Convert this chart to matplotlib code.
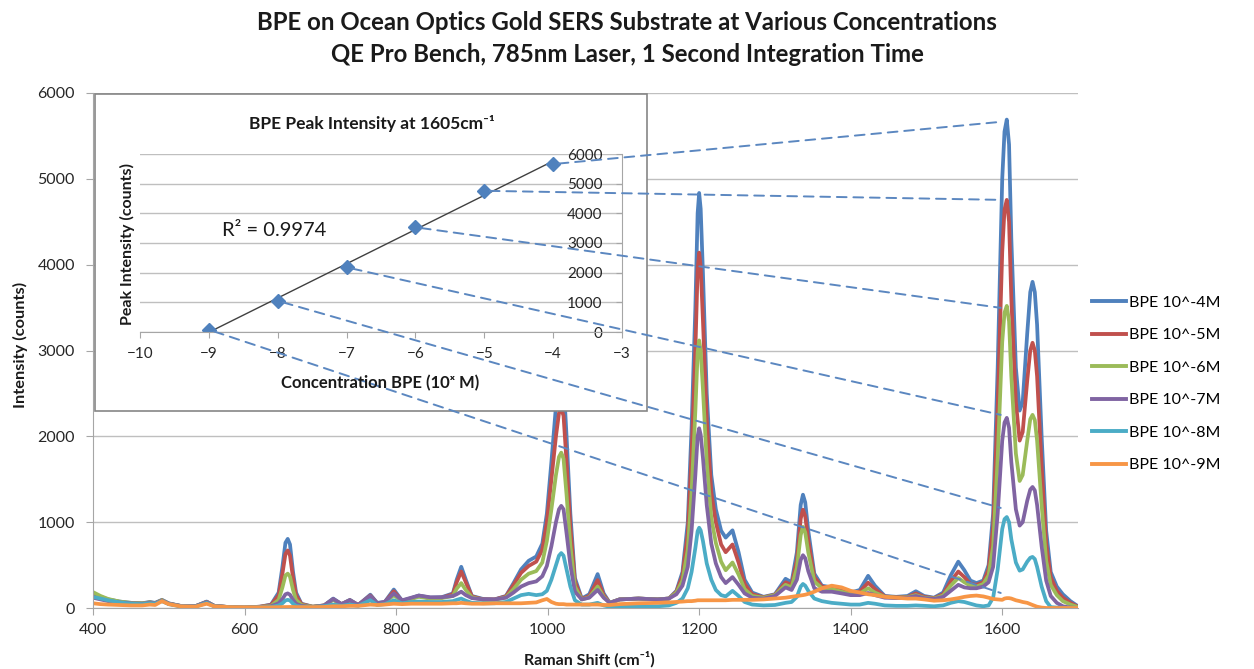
import matplotlib
matplotlib.use('Agg')
import matplotlib.pyplot as plt
import matplotlib.patches as mpatches
from matplotlib.patches import ConnectionPatch
from matplotlib.lines import Line2D
import numpy as np

plt.rcParams['font.family'] = ['Lato', 'DejaVu Sans']

# Raman shift sample points (cm-1) and intensities
shift = [400, 410, 420, 435, 450, 465, 475, 482, 491, 500, 515, 535, 550, 560, 580, 600, 620, 635,
         645, 650, 654, 657, 660, 664, 668, 675, 690, 705, 717, 728, 739, 750, 766, 775, 785, 797, 808, 820,
         830, 845, 860, 875, 880, 886, 892, 900, 915, 930, 945, 955, 965, 975, 985, 993, 999, 1005,
         1011, 1015, 1018, 1021, 1025, 1030, 1036, 1045, 1055, 1066, 1074, 1082, 1095, 1120, 1145, 1160, 1170,
         1178, 1185, 1190, 1195, 1198, 1200, 1202, 1205, 1210, 1216, 1222, 1229, 1235, 1244, 1252, 1260, 1270,
         1285, 1300, 1314, 1322, 1329, 1334, 1337, 1340, 1344, 1352, 1362, 1375, 1388, 1400, 1412, 1423, 1432,
         1445, 1460, 1475, 1486, 1497, 1510, 1522, 1532, 1542, 1550, 1558, 1566, 1575, 1582, 1588,
         1594, 1600, 1603, 1606, 1609, 1612, 1618, 1623, 1627, 1633, 1637, 1640, 1643, 1646, 1652, 1658, 1664, 1672, 1680,
         1690, 1700]

bpe_4 = [170, 130, 100, 75, 60, 55, 70, 60, 95, 55, 25, 20, 75, 25, 10, 5, 15, 40,
         180, 480, 760, 805, 740, 420, 180, 50, 15, 30, 110, 45, 95, 35, 155, 60, 70, 215, 85, 115,
         145, 120, 125, 170, 330, 480, 330, 140, 105, 100, 140, 290, 450, 550, 600, 750, 1100, 1700,
         2350, 2680, 2750, 2650, 2000, 1100, 350, 110, 160, 395, 170, 60, 100, 110, 100, 110, 200,
         420, 1000, 2100, 3500, 4600, 4835, 4650, 3900, 2500, 1550, 1150, 900, 820, 905, 650, 330, 180,
         130, 160, 340, 300, 650, 1200, 1320, 1230, 900, 400, 260, 240, 210, 180, 210, 375, 260,
         140, 130, 140, 195, 140, 120, 180, 380, 540, 440, 320, 290, 320, 500, 1100,
         2800, 5000, 5550, 5690, 5400, 4300, 2800, 2300, 2400, 3200, 3680, 3800, 3680, 3300, 2000, 900, 420, 250, 160,
         80, 20]
bpe_5 = [150, 120, 95, 70, 55, 50, 65, 55, 90, 50, 25, 20, 70, 25, 10, 5, 15, 35,
         150, 400, 630, 670, 610, 350, 150, 45, 15, 30, 100, 45, 90, 35, 145, 55, 65, 195, 80, 110,
         140, 115, 120, 160, 300, 425, 300, 135, 100, 100, 135, 270, 410, 490, 540, 680, 1000, 1500,
         2000, 2270, 2320, 2240, 1700, 950, 310, 105, 140, 325, 150, 60, 100, 110, 100, 110, 190,
         380, 870, 1800, 3000, 3950, 4140, 3980, 3350, 2200, 1350, 1000, 740, 650, 740, 530, 280, 160,
         125, 155, 300, 270, 560, 1040, 1145, 1070, 790, 360, 250, 230, 200, 170, 190, 295, 220,
         135, 125, 130, 170, 130, 115, 160, 310, 425, 360, 280, 270, 300, 450, 950,
         2350, 4150, 4640, 4755, 4500, 3600, 2400, 1950, 2050, 2650, 3000, 3090, 3000, 2700, 1650, 750, 360, 200, 120,
         60, 15]
bpe_6 = [185, 140, 105, 75, 60, 55, 65, 55, 90, 50, 25, 20, 70, 25, 10, 5, 12, 25,
         95, 240, 380, 400, 365, 210, 95, 35, 15, 28, 95, 40, 85, 30, 130, 50, 60, 150, 75, 105,
         130, 110, 115, 140, 225, 290, 210, 125, 95, 95, 125, 220, 330, 400, 430, 530, 780, 1150,
         1550, 1760, 1810, 1740, 1320, 730, 250, 100, 125, 250, 130, 60, 100, 110, 100, 110, 180,
         320, 680, 1350, 2300, 2980, 3117, 3000, 2550, 1700, 1050, 760, 540, 440, 530, 390, 220, 140,
         120, 150, 270, 240, 470, 850, 945, 880, 650, 310, 230, 220, 190, 160, 170, 230, 180,
         130, 120, 125, 150, 120, 110, 145, 260, 350, 300, 260, 250, 280, 380, 720,
         1750, 3100, 3440, 3520, 3340, 2700, 1800, 1480, 1550, 1950, 2200, 2250, 2190, 1950, 1200, 550, 270, 150, 80,
         40, 10]
bpe_7 = [120, 100, 80, 65, 55, 50, 60, 55, 85, 50, 25, 20, 70, 25, 10, 5, 10, 20,
         55, 105, 160, 170, 155, 95, 50, 25, 12, 28, 105, 45, 90, 35, 140, 55, 70, 170, 90, 120,
         145, 125, 125, 140, 160, 190, 150, 115, 100, 100, 120, 180, 250, 290, 310, 370, 490, 720,
         1000, 1150, 1190, 1150, 870, 500, 190, 100, 120, 210, 120, 60, 100, 110, 100, 110, 160,
         260, 480, 900, 1550, 2000, 2094, 2020, 1750, 1200, 750, 520, 360, 290, 360, 270, 170, 120,
         110, 140, 240, 210, 330, 560, 615, 580, 430, 230, 190, 190, 170, 150, 150, 175, 150,
         120, 115, 120, 140, 115, 105, 130, 200, 270, 240, 230, 230, 250, 300, 480,
         1100, 1950, 2160, 2215, 2100, 1700, 1150, 960, 1000, 1250, 1380, 1410, 1370, 1200, 720, 320, 140, 60, 20,
         5, 0]
bpe_8 = [130, 110, 90, 65, 50, 45, 55, 50, 80, 45, 20, 15, 60, 20, 8, 5, 8, 12,
         30, 55, 88, 95, 88, 50, 25, 15, 10, 20, 40, 25, 40, 25, 90, 35, 45, 90, 55, 70,
         75, 70, 70, 80, 95, 110, 85, 60, 55, 55, 70, 110, 150, 165, 150, 160, 200, 330,
         500, 610, 640, 610, 450, 250, 90, 40, 40, 60, 30, 15, 20, 20, 20, 30, 60,
         110, 230, 420, 700, 895, 935, 905, 780, 520, 330, 210, 150, 135, 200, 140, 70, 40,
         30, 35, 60, 70, 130, 250, 280, 260, 200, 110, 80, 60, 50, 40, 40, 60, 50,
         30, 25, 25, 30, 25, 20, 30, 60, 80, 70, 50, 30, 20, 30, 120,
         450, 920, 1035, 1060, 1000, 800, 530, 435, 450, 540, 585, 595, 570, 480, 250, 80, 10, 5, 3,
         0, 0]
bpe_9 = [55, 45, 40, 35, 30, 30, 40, 35, 80, 45, 20, 15, 50, 20, 10, 8, 8, 8,
         10, 12, 12, 12, 12, 12, 10, 10, 10, 12, 20, 20, 25, 25, 40, 35, 40, 50, 45, 50,
         50, 50, 50, 55, 55, 60, 55, 50, 50, 55, 55, 55, 55, 60, 65, 90, 105, 70,
         50, 45, 45, 45, 40, 40, 40, 40, 40, 40, 35, 35, 45, 55, 60, 65, 70,
         75, 80, 80, 85, 90, 90, 90, 90, 90, 90, 90, 90, 90, 95, 95, 95, 95,
         100, 110, 120, 130, 140, 145, 150, 155, 165, 190, 230, 260, 240, 200, 180, 160, 150,
         130, 120, 110, 110, 100, 85, 90, 100, 115, 130, 140, 145, 135, 120, 105,
         100, 95, 110, 115, 115, 110, 90, 80, 70, 60, 45, 35, 25, 15, 5, 0, 0, 0, 0,
         0, 0]

series = [bpe_4, bpe_5, bpe_6, bpe_7, bpe_8, bpe_9]
labels = ['BPE 10^-4M', 'BPE 10^-5M', 'BPE 10^-6M', 'BPE 10^-7M', 'BPE 10^-8M', 'BPE 10^-9M']
colors = ['#4F81BD', '#C0504D', '#9BBB59', '#8064A2', '#4BACC6', '#F79646']

# inset: peak intensity at 1605 cm-1 vs log concentration
conc_exp = [-9, -8, -7, -6, -5, -4]
peak_counts = [77, 1050, 2180, 3530, 4760, 5660]
# where the dashed guide lines land on the 1605 peak in the big chart
link_end = [175, 1166, 2250, 3497, 4755, 5664]

fig = plt.figure(figsize=(12.54, 6.69), dpi=100)

# main spectra
ax = fig.add_axes([93/1254, 1-608/669, 985/1254, 515/669])
for y, lab, c in zip(series, labels, colors):
    ax.plot(shift, y, color=c, lw=2.7, label=lab, solid_joinstyle='round')
ax.set_xlim(400, 1700)
ax.set_ylim(0, 6000)
ax.set_xticks([400, 600, 800, 1000, 1200, 1400, 1600])
ax.set_yticks(range(0, 6001, 1000))
ax.grid(axis='y', color='#BFBFBF', lw=1)
ax.set_axisbelow(True)
for s in ['top', 'right']:
    ax.spines[s].set_visible(False)
for s in ['left', 'bottom']:
    ax.spines[s].set_color('#A6A6A6')
ax.tick_params(axis='both', direction='out', length=5, color='#A6A6A6',
               labelsize=11.5, labelcolor='#262626')
ax.tick_params(axis='x', pad=6)
ax.tick_params(axis='y', pad=8)

fig.text(0.5, 1-22/669, 'BPE on Ocean Optics Gold SERS Substrate at Various Concentrations',
         ha='center', va='center', fontsize=17.3, fontweight='bold', color='#1a1a1a')
fig.text(0.5, 1-55/669, 'QE Pro Bench, 785nm Laser, 1 Second Integration Time',
         ha='center', va='center', fontsize=17.3, fontweight='bold', color='#1a1a1a')
fig.text(20/1254, 1-345/669, 'Intensity (counts)', rotation=90, ha='center', va='center',
         fontsize=11.8, fontweight='bold', color='#1a1a1a')
fig.text(589/1254, 1-659/669, 'Raman Shift (cm⁻¹)', ha='center', va='center',
         fontsize=11.5, fontweight='bold', color='#1a1a1a')

handles = [Line2D([0], [0], color=c, lw=2.8) for c in colors]
fig.legend(handles, labels, loc='center left', bbox_to_anchor=(1086/1254, 1-384/669),
           frameon=False, fontsize=11.5, handlelength=2.1, handletextpad=0.2,
           labelspacing=1.15, borderaxespad=0)

# white chart box of the inset
box = mpatches.Rectangle((95/1254, 1-411/669), 552/1254, 317/669, transform=fig.transFigure,
                         facecolor='white', edgecolor='#868686', lw=1.2, zorder=1)
fig.patches.append(box)

ins = fig.add_axes([140/1254, 1-332/669, 482/1254, 178/669], zorder=2)
ins.patch.set_alpha(0)
ins.set_xlim(-10, -3)
ins.set_ylim(0, 6000)
ins.set_xticks(range(-10, -2))
ins.set_yticks(range(0, 6001, 1000))
ins.grid(axis='y', color='#BFBFBF', lw=1)
ins.set_axisbelow(True)
ins.spines['left'].set_position(('data', -3))
for s in ['top', 'right']:
    ins.spines[s].set_visible(False)
for s in ['left', 'bottom']:
    ins.spines[s].set_color('#A6A6A6')
ins.tick_params(axis='both', direction='out', length=4, color='#A6A6A6',
                labelsize=11, labelcolor='#262626')
ins.tick_params(axis='x', pad=7)
ins.tick_params(axis='y', pad=10)

fit = np.polyfit(conc_exp, peak_counts, 1)
fx = np.array([conc_exp[0], conc_exp[-1]])
ins.plot(fx, np.polyval(fit, fx), color='#404040', lw=1)
ins.plot(conc_exp, peak_counts, 'D', color='#4F81BD', markersize=7, markeredgecolor='#4F81BD')

fig.text(372/1254, 1-123/669, 'BPE Peak Intensity at 1605cm⁻¹', ha='center', va='center',
         fontsize=12.5, fontweight='bold', color='#1a1a1a')
fig.text(127/1254, 1-244/669, 'Peak Intensity (counts)', rotation=90, ha='center', va='center',
         fontsize=11.5, fontweight='bold', color='#1a1a1a')
fig.text(380/1254, 1-383/669, 'Concentration BPE (10ˣ M)', ha='center', va='center',
         fontsize=12, fontweight='bold', color='#1a1a1a')
fig.text(222/1254, 1-231/669, 'R² = 0.9974', ha='left', va='center', fontsize=14.5,
         color='#1a1a1a')

# dashed guide lines from inset points to the 1605 peaks
for cx, cy, ey in zip(conc_exp, peak_counts, link_end):
    con = ConnectionPatch(xyA=(cx, cy), coordsA=ins.transData,
                          xyB=(1598, ey), coordsB=ax.transData,
                          color='#5B87C0', lw=1.4, linestyle=(0, (5, 3.5)),
                          shrinkA=4, shrinkB=0, zorder=3)
    fig.add_artist(con)

fig.savefig('out.png', dpi=100)
